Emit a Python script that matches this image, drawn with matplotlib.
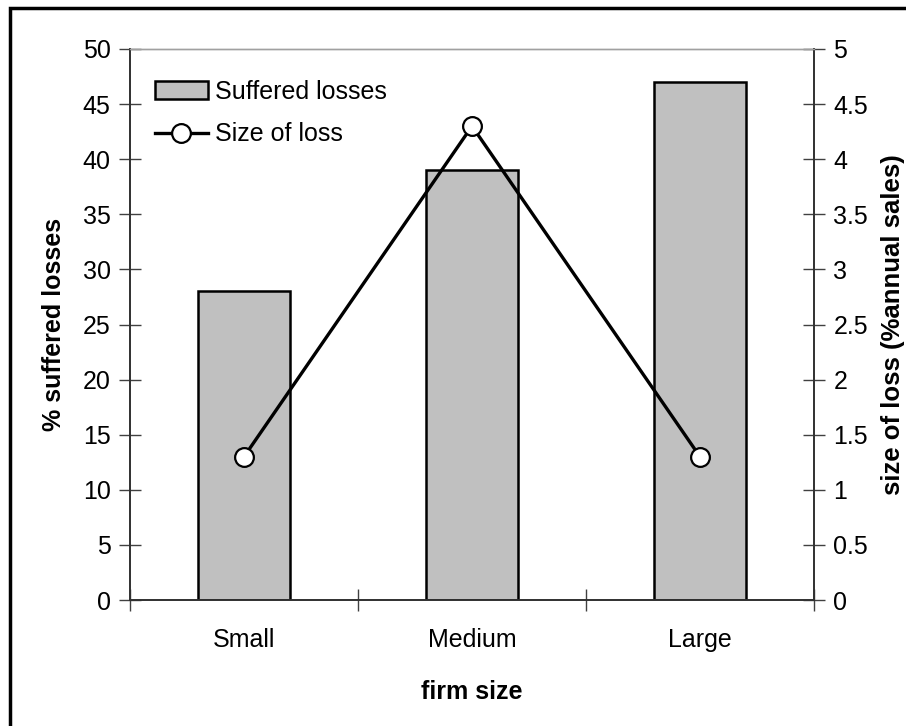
import matplotlib.pyplot as plt
from matplotlib.patches import Rectangle

plt.rcParams['font.family'] = ['Liberation Sans', 'DejaVu Sans']

categories = ['Small', 'Medium', 'Large']
suffered_losses = [28, 39, 47]      # % of firms
size_of_loss = [1.3, 4.3, 1.3]      # % of annual sales

FS = 18

fig = plt.figure(figsize=(9.06, 7.26), dpi=100)
ax = fig.add_axes([130 / 906, 126 / 726, 684 / 906, 551 / 726])

# outer frame (runs off the right and bottom edges)
fig.patches.append(Rectangle((9.5 / 906, -0.1), 1.2, (726 - 7.5) / 726 + 0.1,
                             transform=fig.transFigure, fill=False,
                             edgecolor='black', linewidth=2.5))

x = range(len(categories))
bars = ax.bar(x, suffered_losses, width=0.405, color='#c0c0c0',
              edgecolor='black', linewidth=1.8, label='Suffered losses', zorder=2)
ax.set_xlim(-0.5, 2.5)
ax.set_ylim(0, 50)
ax.set_yticks(range(0, 51, 5))

ax2 = ax.twinx()
line, = ax2.plot(x, size_of_loss, color='black', linewidth=2.4, marker='o',
                 markersize=13.5, markerfacecolor='white', markeredgecolor='black',
                 markeredgewidth=1.6, label='Size of loss', zorder=3)
ax2.set_ylim(0, 5)
ax2.set_yticks([i * 0.5 for i in range(11)])
ax2.set_yticklabels(['0', '0.5', '1', '1.5', '2', '2.5', '3', '3.5', '4', '4.5', '5'])

# category ticks sit between the groups
ax.set_xticks(list(x))
ax.set_xticklabels(categories)
ax.set_xticks([-0.5, 0.5, 1.5, 2.5], minor=True)
ax.tick_params(axis='x', which='major', length=0, pad=20, labelsize=FS)
ax.tick_params(axis='x', which='minor', direction='inout', length=16,
               width=1, color='#404040')
ax.tick_params(axis='y', direction='inout', length=16, width=1,
               color='#404040', pad=6, labelsize=FS)
ax2.tick_params(axis='y', direction='inout', length=16, width=1,
                color='#404040', pad=6, labelsize=FS)

for a in (ax, ax2):
    a.spines['top'].set_color('#a0a0a0')
    a.spines['top'].set_linewidth(1)
    for s in ('left', 'right', 'bottom'):
        a.spines[s].set_color('#303030')
        a.spines[s].set_linewidth(1.2)

ax.set_xlabel('firm size', fontsize=FS, fontweight='bold', labelpad=20)
ax.set_ylabel('% suffered losses', fontsize=FS, fontweight='bold', labelpad=12)
ax2.set_ylabel('size of loss (%annual sales)', fontsize=18.5,
               fontweight='bold', labelpad=9)

ax2.legend([bars, line], ['Suffered losses', 'Size of loss'], loc='upper left',
           bbox_to_anchor=(0.0, 0.99), frameon=False, fontsize=FS,
           handlelength=2.1, handletextpad=0.3, labelspacing=0.75,
           borderaxespad=0.6)

fig.savefig('out.png', dpi=100)
